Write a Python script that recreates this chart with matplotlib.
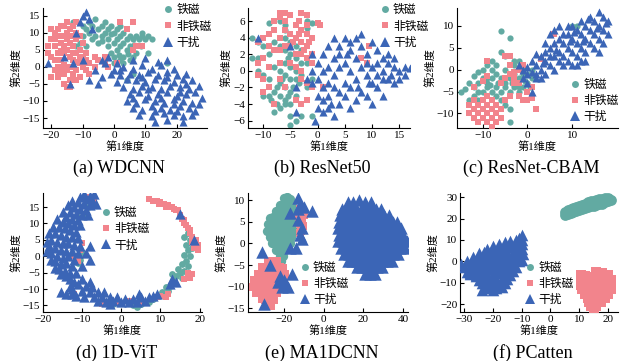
import numpy as np
import matplotlib
matplotlib.use('Agg')
import matplotlib.pyplot as plt
from matplotlib.lines import Line2D

plt.rcParams['font.family'] = ['Liberation Serif', 'Noto Sans CJK SC']
plt.rcParams['axes.unicode_minus'] = True

classes = ['铁磁', '非铁磁', '干扰']
colors = ['#62aaa2', '#f2848c', '#3b65b6']
markers = ['o', 's', '^']
titles = ['(a) WDCNN', '(b) ResNet50', '(c) ResNet-CBAM', '(d) 1D-ViT', '(e) MA1DCNN', '(f) PCatten']
xlabel = '第1维度'
ylabel = '第2维度'

# ---------------- (a) WDCNN ----------------
a_ferro = [(-13,13),(-10,12),(-9,11),(-8,13),(-7,12),(-6,14),(-5,11),(-4,12),(-3,13),(-2,11),(-1,12),(0,10),
           (1,11),(2,9),(3,10),(4,8),(5,9),(6,8),(7,9),(8,8),(9,9),(10,8),(11,9),(12,8),(-8,10),(-6,9),(-4,9),
           (-2,8),(0,7),(1,8),(2,6),(3,7),(4,5),(5,6),(6,3),(3,3),(2,2),(0,3),(-1,4),(-2,6),(1,5),(3,1),(5,2),
           (7,4),(-7,8),(-11,7),(-12,6),(-9,6),(-5,7),(0,1),(4,-4),(6,-2),(17,1),(11,4),(9,10),(-3,10),(-10,9),
           (2,12),(-1,9.5),(1.5,3.5),(4.5,3.8),(-4,7.5),(6.5,6.5),(8.5,6)]
a_nonferro = [(-21,6),(-20,8),(-19,10),(-18,11),(-17,12),(-16,12),(-15,13),(-14,11),(-13,12),(-12,10),(-19,6),
              (-18,4),(-17,7),(-16,9),(-15,8),(-14,7),(-13,6),(-12,8),(-11,5),(-10,3),(-20,3),(-19,2),(-17,2),
              (-16,4),(-15,5),(-14,3),(-13,2),(-12,4),(-11,1),(-9,2),(-18,0),(-17,-1),(-16,-2),(-15,-1),(-14,0),
              (-13,-2),(-12,-1),(-11,-3),(-10,0),(-9,-1),(-20,-3),(-18,-3),(-16,-5),(-15,-6),(-14,-4),(-12,-4),
              (-8,1),(-9,4),(-10,7),(-11,9),(-16,6),(-20,11),(-17,9),(-13,9),(-12,13),(-21,4),(-8,-2),(-6,0),
              (-5,2),(-3,1),(2,13),(6,13),(4,11),(7,6),(6,5),(9,6),(-3,3),(-2,0),(1,1),(-6,3),(-14,-6),(-18,-2),
              (-19,8),(-17,4.5),(-15,10),(-13,4),(-11,3),(-19,-1),(-16,0.5),(-12,1.5)]
a_interf = [(-9,16),(-10,15),(-8,14),(-11,13),(-7,11),(-12,10),(-21,1),(-16,3),(-14,-5),(-8,-4),(-6,-1),(-4,-3),
            (-3,1),(-2,3),(-4,2),(-1,-2),(0,-1),(1,1),(2,-1),(-10,2),(-13,1),(-5,-5),
            (6,2),(10,2.5),(14,1.5),(17,2),(3,0),(6,-0.5),(9,0.5),(12,-0.5),(15,0.5),(19,-0.5),
            (2,-2.5),(5,-2),(8,-2.5),(11,-1.5),(14,-2.5),(17,-1.5),(20,-2.5),(23,-2),
            (1,-4.5),(4,-3.5),(7,-4),(10,-4.5),(13,-3.5),(16,-4),(19,-4.5),(22,-3.5),(25,-4),
            (3,-6),(6,-6.5),(9,-5.5),(12,-6),(15,-6.5),(18,-5.5),(21,-6),(24,-6.5),(27,-5.5),
            (5,-8),(8,-7.5),(11,-8.5),(14,-8),(17,-7.5),(20,-8.5),(23,-8),(26,-7.5),(28,-9),
            (4,-10),(7,-10.5),(10,-9.5),(13,-10),(16,-10.5),(19,-9.5),(22,-10),(25,-10.5),(27,-11),
            (6,-12),(9,-12.5),(12,-11.5),(15,-12),(18,-12.5),(21,-11.5),(24,-12),(26,-13),
            (8,-14),(12,-14.5),(16,-13.5),(19,-14),(22,-14.5),(25,-14),(13,-16),(17,-15.5),(22,-16),
            (11,-6.5),(17,-3),(21,-7.5),(15,-9),(19,-11),(23,-5),(9,-3),(6,-9),(13,-13),(20,-13)]

# ---------------- (b) ResNet50 ----------------
b_ferro = [(-9,5.8),(-7,6),(-6,5.5),(-2,6),(-2,5.2),(-1,5.8),(-11,3.5),(-12,4),(-10,3),(-8,3.5),(-6,4),(-5,3.5),
           (-7,3),(-6,2.5),(-5,2),(-4,1.5),(-6,1),(-5,0.5),(-4,0),(-6,-0.5),(-5,-1),(-7,-1.5),(-4,-1),(-3,-0.5),
           (-2,1),(-3,1),(-11,1.5),(-12,1.5),(-11,0),(-10,-0.5),(-9,-1),(-8,-2.5),(-7,-3),(-6,-3.5),(-9,-3),
           (-10,-3),(-8,-5),(-7,-4.5),(-6,-4),(-5,-4),(-5,-5.5),(-5,-6.5),(-4,-6),(-3,-5.5),(-1,-5.5),(-2,-2),
           (-1,-1),(-4,3),(-3,2.5),(-6,-2),(-5,-2.5),(-4,-3),(-7,0),(-8,0.5),(-6,5),(-9,2),(-5.5,1.5),(-4.5,-2),
           (-6.5,-1),(-3.5,-1.5),(-7.5,-2),(-5.5,-3),(-8.5,-3.5),(-7.5,-4)]
b_nonferro = [(-7,7),(-6,7),(-7,6.5),(-5,6.8),(-3,7),(-2,6.8),(-8,5),(-9,4.5),(-10,4),(-11,3.5),(-9,3),(-8,2.5),
              (-7,4),(-6,5),(-5,4.5),(-4,5.5),(-3,5),(-2,4.5),(-1,4),(-4,4),(-3,3.5),(-2,3),(-5,3),(-6,3),(-7,2.5),
              (-4,2),(-3,2),(-2,1.5),(-1,2),(-5,1),(-4,0.5),(-3,0),(-10,1.5),(-9,0.5),(-10,-1),(-11,-0.5),
              (-10,-2.5),(-9,-2),(-7,-1),(-6,-2),(-8,-4),(-4,-3.5),(-3,-4),(-2,-3.5),(-3,-1),(-2,-1.5),(-1,-2),
              (0,5.8),(0.5,5.5),(1,-2),(8,1.5),(9,1),(9.5,3),(-7,1),(-8,6),(-6,6),(-11,1),(-1,1),(-2,5.5),
              (-3.5,4.5),(-4.5,3.5),(-2.5,2.5),(-1.5,3.5),(-3.5,6)]
b_interf = [(-11,4),(-5,3),(-4,-5),(-4,-2),(-2,-1),(-1,0),(0,1),(1,2),(2,0.5),(3,1.5),(4,3),(5,4),(6,3.5),(7,4),
            (8,3),(9,2),(10,3.5),(11,2.5),(12,1.5),(13,1),(14,0.5),(15,0),(16,0.5),(17,0.3),(3,4),(2,3),(1,0),
            (0,-1),(-1,-1.5),(1,-2),(2,-1.5),(3,-0.5),(4,0.5),(5,1),(6,0),(7,1.5),(8,0.5),(9,-0.5),(10,0.5),
            (11,-0.5),(12,0),(13,-1),(14,-1.5),(15,-1),(16,-0.5),(0,-3),(1,-3.5),(2,-3),(3,-2),(4,-2.5),(5,-3),
            (6,-2),(7,-3.5),(8,-2.5),(9,-3),(10,-1.5),(11,-2),(12,-1),(0,-4.5),(1,-5),(2,-4.5),(4,-4),(6,-4.5),
            (-0.5,-6),(3,-5.5),(5,-1.5),(7,-1),(9,1),(11,1),(13,2),(14,1.5),(10,-4),(12,-3),(6,2.5),(4,2),
            (8,4.5),(-1,2),(5.5,2),(2.5,-4),(7.5,-2),(9.5,-1.5),(13.5,-0.5)]

# ---------------- (c) ResNet-CBAM ----------------
c_ferro = [(-6,8.8),(-4,7.2),(10,10),(11,10),(-2,2),(-6,4),(-5,3),(-8,2),(-9,1),(-11,-0.5),(-12,-1.5),(-13,-3),
           (-14,-4.5),(-15,-5),(-12,-4),(-11,-3),(-10,-2),(-9,-3),(-8,-2),(-7,-1),(-6,-2),(-5,-3),(-4,-2),(-3,-1),
           (-2,-2),(-1,-1),(0,-3),(-1,-4),(-2,-5),(-3,-4),(-4,-5),(-5,-4),(-6,-5),(-7,-4),(-8,-5),(-9,-4),
           (-10,-5),(-11,-5),(-12,-6),(-13,-7),(-7,-6),(-6,-7),(-5,-8),(-4,-9),(-1,0),(0,-1),(1,0),(-3,1),(-5,0),
           (-7,1),(-8,0),(-10,0),(-4,-12),(-3,2),(1,-2),(-2,-4),(-9,-2),(-11,-7),(-6.5,-3),(-3.5,-3),(-8.5,-3.5),
           (-0.5,-2.5),(0.5,-4)]
c_nonferro = [(-5,3),(-4,3),(-9,2),(-3,-0.5),(-2,0),(-1,1),(-4,-1),(-5,-2),(-6,-3),(-3,-3),(-2,-3),(-9,-1.5),
              (-10,-2.5),(-12,-4),(-13,-10),(-12,-9),(-11,-8),(-10,-7),(-9,-6),(-8,-7),(-12,-11),(-11,-10),
              (-10,-11),(-9,-12),(-8,-11),(-7,-10),(-6,-9),(-10,-9),(-9,-8),(-8,-9),(-7,-8),(-11,-12),(-8,-13),
              (-6,-11),(-4,-6),(-2,-6),(-1,-7),(0,-5),(0,-7),(1,-6.5),(1,-4),(6,8),(3,2.5),(2,-9),(-12,-7),
              (-13,-8),(-5,-7),(-9,-10),(-7,-12),(-4,1),(-3,-2)]
c_interf = [(-2,1),(-1,0),(0,-1),(1,2),(1,-5),(2,-2),(2,1),(3,3),(3,0),(4,-1),(4,2),(5,5),(5,1),(6,3),(6,0),
            (7,7),(7,4),(7,2),(8,6),(8,1),(8,3),(9,8),(9,5),(9,2),(10,7),(10,4),(10,10),(11,9),(11,6),(11,3),
            (12,8),(12,5),(12,11),(13,10),(13,7),(13,4),(14,9),(14,6),(14,12),(15,11),(15,8),(15,5),(16,10),
            (16,7),(16,13),(17,12),(17,9),(17,6),(18,11),(18,8),(6,6),(5,3),(4,4),(3,-2),(2,-1),(1,-0.5),
            (0,0.5),(8,8),(9,10),(10,1),(11,1),(12,2),(13,2),(16,4),(6,9),(4,6),(5,8),(7,10),(0,-3),(-1,-2),
            (2,3.5),(3.5,1.5),(6.5,4.5),(9.5,6.5),(12.5,6.5),(15.5,9.5),(17.5,10.5),(10.5,8.5),(13.5,11.5)]

# ---------------- (d) 1D-ViT ----------------
d_ferro = [(17,7),(17.5,5),(16.5,3.5),(17,2),(16,0.5),(17.5,0),(16.5,-1.5),(15.5,-2.5),(17,-3),(16,-4.5),(15,-5),
           (14,-6),(15.5,-6.5),(13.5,-7.5),(12.5,-9),(11.5,-9.5),(12,-10.5),(10.5,-11),(11,-12),(9.5,-12),(8,-13),
           (7,-14),(5,-14.5),(4,-15.5),(3,-15),(-3,-15),(-2,-14.5),(-9,13),(-8.5,15),(-7.5,16),(-11,12),(-10,1),
           (-10.5,-1),(-11,-2),(16,6),(18,2.5),(14.5,-4),(13,-5.5)]
d_nonferro = [(7,17.5),(8,17),(9,17),(10,16.5),(11,16),(12,15.5),(13,15),(14,14),(15,12.5),(16,11),(16.5,9.5),
              (17,8.5),(17.5,7),(18,6),(19,5),(19.5,3.5),(19.5,2),(18.5,2.5),(17,-5),(18,-5.5),(17.5,-6.5),
              (16,-7),(10,-12),(9,-12.5),(11.5,-12.5),(12,-11.5),(2,-13.5),(5,-14),(-1,-14),(-5,-14.5),
              (-12,-11.5),(-10,4),(-10.5,2),(-12,0),(-11,-1.5),(-8,18),(-7,17),(9.5,16),(11.5,15),(13.5,14.5),
              (15.5,11.5),(16,10),(18,4.5),(17.5,8),(14.5,14)]
d_interf = [(-9.5,19),(-8,18.5),(-10.5,18),(-9,17.5),(-7.5,17),(-11,16.5),(-9.5,16),(-8,15.5),(-12,15),(-10.5,14.5),
            (-9,14),(-13,13.5),(-11.5,13),(-10,12.5),(-8.5,12.5),(-14,12),(-12.5,11.5),(-11,11),(-15,10.5),
            (-13.5,10),(-12,9.5),(-10.5,9.5),(-16,9),(-14.5,8.5),(-13,8),(-11.5,7.5),(-17,7),(-15.5,6.5),(-14,6),
            (-12.5,6),(-11,5.5),(-18,5),(-16.5,4.5),(-15,4),(-13.5,4),(-12,3.5),(-10.5,3),(-18.5,3),(-17,2.5),
            (-15.5,2),(-14,1.5),(-12.5,1.5),(-11,1),(-18,1),(-16.5,0),(-15,-0.5),(-13.5,0),(-12,-1),(-17,-1.5),
            (-15.5,-2.5),(-14,-2),(-12.5,-3),(-16,-4),(-14.5,-4.5),(-13,-5),(-14,-6),(-8,3),(-9,1),(-8,-1),
            (-6.5,16),(-7,19),(-12.5,17),(-13.5,15.5),(-15,13.5),(-16.5,11.5),(-17.5,9),(-18.5,7),(-19,4.5),
            (-19,1.5),(-18,-1),(-17,-3.5),(-15.5,-5.5),(-13,-7),(-11.5,-5),(-10,-3),
            (-14,-11.5),(-12.5,-10),(-11,-8.5),(-10,-7),(-11.5,-12),(-10,-10.5),(-9,-9),(-8,-11),(-9.5,-12.5),
            (-7,-12.5),(-6,-11),(-5,-12.5),(-4,-14),(-3,-12.5),(-2,-13.5),(-1,-12.5),(0,-14),(1,-13),(2,-14),
            (3,-13),(4,-14),(5,-12.5),(6,-13.5),(7,-12.5),(8,-12),(9,-11.5),(-6,-13.5),(-8,-8),(-12,-8),
            (-13,-9.5),(-12.5,-11.5),(-3,-14.5),(4.5,-11.5),(-15.5,-11),(-7.5,-9.5),(-4.5,-11),
            (15,13),(18.5,5),(13,-7),(12.5,-8.5),(14,-8)]

# ---------------- (e) MA1DCNN ----------------
e_ferro = [(-20,10.5),(-18.5,10.8),(-17,10.3),(-22,9),(-20.5,9),(-19,9.2),(-17.5,9),(-16,8.8),
           (-24,7.5),(-22.5,7.7),(-21,7.5),(-19.5,7.6),(-18,7.4),(-16.5,7.5),(-15,7.3),
           (-27,6),(-25.5,6.2),(-24,6),(-22.5,6.1),(-21,5.9),(-19.5,6),(-18,6.2),(-16.5,6),(-15,5.8),
           (-28,4.5),(-26.5,4.6),(-25,4.4),(-23.5,4.5),(-22,4.6),(-20.5,4.4),(-19,4.5),(-17.5,4.6),(-16,4.4),(-14.5,4.5),
           (-28.5,3),(-27,3.1),(-25.5,2.9),(-24,3),(-22.5,3.1),(-21,2.9),(-19.5,3),(-18,3.1),(-16.5,2.9),(-15,3),
           (-27,1.5),(-25.5,1.6),(-24,1.4),(-22.5,1.5),(-21,1.6),(-19.5,1.4),(-18,1.5),(-16.5,1.6),
           (-26,0),(-24.5,0.1),(-23,-0.1),(-21.5,0),(-20,0.1),(-18.5,-0.1),(-17,0),
           (-24,-1.5),(-22.5,-1.4),(-21,-1.6),(-19.5,-1.5),(-22,-3),(-20.5,-3),(-21.5,-4)]
e_nonferro = [(-28,-4),(-26.5,-4.2),(-25,-4),(-23.5,-4.1),
              (-31,-5.5),(-29.5,-5.6),(-28,-5.4),(-26.5,-5.5),(-25,-5.6),(-23.5,-5.4),(-22,-5.5),(-20.5,-5.6),
              (-33,-7),(-31.5,-7.1),(-30,-6.9),(-28.5,-7),(-27,-7.1),(-25.5,-6.9),(-24,-7),(-22.5,-7.1),(-21,-6.9),(-19.5,-7),
              (-35,-8.5),(-33.5,-8.6),(-32,-8.4),(-30.5,-8.5),(-29,-8.6),(-27.5,-8.4),(-26,-8.5),(-24.5,-8.6),(-23,-8.4),(-21.5,-8.5),(-20,-8.6),
              (-35.5,-10),(-34,-10.1),(-32.5,-9.9),(-31,-10),(-29.5,-10.1),(-28,-9.9),(-26.5,-10),(-25,-10.1),(-23.5,-9.9),(-22,-10),
              (-34,-11.5),(-32.5,-11.6),(-31,-11.4),(-29.5,-11.5),(-28,-11.6),(-26.5,-11.4),(-25,-11.5),(-23.5,-11.6),
              (-31,-13),(-29.5,-13.1),(-28,-12.9),(-26.5,-13),(-25,-13.1),(-28,-14.5),(-26.5,-14.6),
              (-12,8),(-11,7),(-12.5,6),(-11,5.5),(-12,4.5),(-10.5,4),(-11.5,3),(-10,6.5),(-12,2.5)]
e_interf = [(-13,10.5),(-12,9),(-10,8.5),(-6,7.5),(-17,7),(-13,5.5),(-12,2),(-11,1),(-17,-1),(-31,-2),(-27,-5),
            (-22,-7.5),(-20,-8.5),(-19,-9.5),(-18,-10),(-21,-10),(-30,-14),(-16,-7),(-14,-1),(-23,-9),(-13,8),(-11,3.5),
            (12,9.5),(15,9.5),(18,10),(21,9.5),(24,9.5),
            (9,8),(11.5,8),(14,8),(16.5,8),(19,8),(21.5,8),(24,8),(26.5,8),(29,8),
            (8,6.5),(10.5,6.5),(13,6.5),(15.5,6.5),(18,6.5),(20.5,6.5),(23,6.5),(25.5,6.5),(28,6.5),(30.5,6.5),(33,6.5),
            (7.5,5),(10,5),(12.5,5),(15,5),(17.5,5),(20,5),(22.5,5),(25,5),(27.5,5),(30,5),(32.5,5),(35,5),(37,5),
            (7,3.5),(9.5,3.5),(12,3.5),(14.5,3.5),(17,3.5),(19.5,3.5),(22,3.5),(24.5,3.5),(27,3.5),(29.5,3.5),(32,3.5),(34.5,3.5),(37,3.5),(39,3.5),
            (7.5,2),(10,2),(12.5,2),(15,2),(17.5,2),(20,2),(22.5,2),(25,2),(27.5,2),(30,2),(32.5,2),(35,2),(37.5,2),(40,2),
            (7,0.5),(9.5,0.5),(12,0.5),(14.5,0.5),(17,0.5),(19.5,0.5),(22,0.5),(24.5,0.5),(27,0.5),(29.5,0.5),(32,0.5),(34.5,0.5),(37,0.5),(39.5,0.5),(42,0.5),
            (8.5,-1),(11,-1),(13.5,-1),(16,-1),(18.5,-1),(21,-1),(23.5,-1),(26,-1),(28.5,-1),(31,-1),(33.5,-1),(36,-1),(38.5,-1),(41,-1),
            (10,-2.5),(12.5,-2.5),(15,-2.5),(17.5,-2.5),(20,-2.5),(22.5,-2.5),(25,-2.5),(27.5,-2.5),(30,-2.5),(32.5,-2.5),(35,-2.5),(37.5,-2.5),
            (12,-4),(14.5,-4),(17,-4),(19.5,-4),(22,-4),(24.5,-4),(27,-4),(29.5,-4),(32,-4),(34.5,-4),
            (17,-5.5),(19.5,-5.5),(22,-5.5),(24.5,-5.5),(27,-5.5),(29.5,-5.5),(21,-7),(23.5,-7),(26,-7)]

# ---------------- (f) PCatten ----------------
f_ferro = [(5,21.5),(5,23),(6,22),(6,24),(7,22.5),(7,24.5),(8,23),(8,25),(9,23.5),(9,25.5),(10,24),(10,26),
           (11,24.5),(11,26.5),(12,25),(12,27),(13,25.5),(13,27.5),(14,26),(14,28),(15,26),(15,28),(16,26.5),
           (16,28.5),(17,27),(17,29),(18,27),(18,29),(19,27.5),(19,29.5),(20,28),(20,29.5),(21,28.5),(6.5,23),
           (8.5,24),(10.5,25),(12.5,26),(14.5,27),(16.5,27.5),(18.5,28),(20.5,29),(7.5,23.5),(11.5,25.7),
           (15.5,27.2),(19.5,28.5)]
f_nonferro = [(16,-5),(18,-5.5),(10.5,-6.5),(12,-7),(14,-7.5),(16,-7),(18,-7),(20,-6.5),(11,-9),(13,-9),(15,-9.5),
              (17,-9),(19,-9),(21,-8.5),(10.5,-11),(12.5,-11),(14.5,-11.5),(16.5,-11),(18.5,-11),(20.5,-11),
              (11,-13),(13,-13.5),(15,-13),(17,-13),(19,-13.5),(21,-13),(12,-15),(14,-15),(16,-15.5),(18,-15),
              (20,-15),(13,-17),(15,-17),(17,-17.5),(19,-17),(13.5,-19),(15.5,-19),(17.5,-19),(14,-21),(16,-21),
              (15,-22.5),(11.5,-8),(13.5,-10.5),(17.5,-8),(19.5,-12),(12,-12),(16,-14),(14,-16),(18,-16.5)]
f_interf = [(-10,12.5),(-11,11),(-12,10),(-14,9.5),(-10,10),(-16,9),(-18,8),(-16,7.5),(-14,8),(-12,8),(-10,8),
            (-20,7),(-22,6),(-20,5.5),(-18,6),(-16,6),(-14,6.5),(-12,6),(-10,6),(-25,4),(-23,4.5),(-21,4),
            (-19,3.5),(-17,4),(-15,4),(-13,4.5),(-11,4),(-9.5,3.5),(-27,2),(-25,2.5),(-23,2),(-21,1.5),(-19,2),
            (-17,2.5),(-15,2),(-13,1.5),(-11,2),(-10,0.5),(-31,-1),(-29,0),(-27,0.5),(-25,-0.5),(-23,0),
            (-21,0.5),(-19,-0.5),(-17,0),(-15,0.5),(-13,-0.5),(-11,0),(-30,-2.5),(-28,-2),(-26,-2),(-24,-2.5),
            (-22,-2),(-20,-1.5),(-18,-2),(-16,-2.5),(-14,-2),(-12,-2.5),(-29,-5),(-27,-4),(-25,-4.5),(-23,-4),
            (-21,-3.5),(-19,-4),(-17,-4.5),(-15,-4),(-13,-4.5),(-28,-6),(-26,-7),(-24,-6),(-22,-6.5),(-20,-6),
            (-18,-5.5),(-16,-6),(-14,-6.5),(-25,-8.5),(-23,-8),(-21,-8.5),(-19,-8),(-17,-8.5),(-15,-8),(-24,-10),
            (-22,-10.5),(-20,-10),(-18,-10.5),(-16,-10),(-23,-12.5),(-21,-12),(-19,-12.5),(-17,-12),(-24,-13.5),
            (-20,-13.5),(-26,-6.5),(-28,-5.5)]

panels = [
    dict(data=(a_ferro, a_nonferro, a_interf), xlim=(-22.7, 29.7), ylim=(-17.9, 17.2),
         xt=[-20, -10, 0, 10, 20], yt=[-15, -10, -5, 0, 5, 10, 15], box=(43, 207, 8, 128), leg=(0.72, 1.03)),
    dict(data=(b_ferro, b_nonferro, b_interf), xlim=(-12.8, 17.0), ylim=(-6.9, 7.6),
         xt=[-10, -5, 0, 5, 10, 15], yt=[-6, -4, -2, 0, 2, 4, 6], box=(248, 410, 8, 128), leg=(0.80, 1.03)),
    dict(data=(c_ferro, c_nonferro, c_interf), xlim=(-15.8, 20.3), ylim=(-13.3, 14.0),
         xt=[-10, 0, 10], yt=[-10, -5, 0, 5, 10], box=(457, 618, 8, 128), leg=(0.69, 0.41)),
    dict(data=(d_ferro, d_nonferro, d_interf), xlim=(-20.0, 20.6), ylim=(-17.0, 19.3),
         xt=[-20, -10, 0, 10, 20], yt=[-15, -10, -5, 0, 5, 10, 15], box=(43, 202, 193, 312), leg=(0.35, 0.88)),
    dict(data=(e_ferro, e_nonferro, e_interf), xlim=(-38.2, 42.5), ylim=(-15.9, 11.7),
         xt=[-20, 0, 20, 40], yt=[-15, -10, -5, 0, 5, 10], box=(248, 408, 193, 312), leg=(0.31, 0.42)),
    dict(data=(f_ferro, f_nonferro, f_interf), xlim=(-31.5, 23.5), ylim=(-23.6, 31.9),
         xt=[-30, -20, -10, 0, 10, 20], yt=[-20, -10, 0, 10, 20, 30], box=(460, 618, 193, 312), leg=(0.40, 0.42)),
]

W, H = 626, 361
fig = plt.figure(figsize=(W / 100, H / 100), dpi=100)
sizes = [[20, 20, 34], [20, 20, 34], [20, 20, 34], [24, 24, 55], [45, 40, 80], [60, 60, 70]]
cjk = ['Liberation Serif', 'Noto Sans CJK SC']

for i, p in enumerate(panels):
    l, r, t, b = p['box']
    ax = fig.add_axes([l / W, (H - b) / H, (r - l) / W, (b - t) / H])
    for k in range(3):
        pts = np.array(p['data'][k], dtype=float)
        ax.scatter(pts[:, 0], pts[:, 1], s=sizes[i][k], c=colors[k], marker=markers[k],
                   linewidths=0, zorder=2 + k)
    ax.set_xlim(*p['xlim'])
    ax.set_ylim(*p['ylim'])
    ax.set_xticks(p['xt'])
    ax.set_yticks(p['yt'])
    for s in ['top', 'right']:
        ax.spines[s].set_visible(False)
    for s in ['left', 'bottom']:
        ax.spines[s].set_linewidth(0.8)
    ax.tick_params(direction='in', length=3, width=0.8, labelsize=8, pad=2)
    ax.set_xlabel(xlabel, fontsize=8, family=cjk, labelpad=1)
    ax.set_ylabel(ylabel, fontsize=8, family=cjk, labelpad=1)
    handles = [Line2D([], [], linestyle='none', marker=markers[k], color=colors[k],
                      markersize=5 if k < 2 else 6.5, markeredgewidth=0) for k in range(3)]
    ax.legend(handles, classes, loc='upper left', bbox_to_anchor=p['leg'], frameon=False,
              prop={'family': cjk, 'size': 8.5}, handletextpad=0.1, labelspacing=0.35,
              handlelength=1.2, borderaxespad=0, borderpad=0)
    cx = (l + r) / 2 / W
    ty = 168 if i < 3 else 353
    fig.text(cx - 0.01, (H - ty) / H, titles[i], ha='center', va='center', fontsize=13,
             family='Liberation Serif')

fig.savefig('out.png', dpi=100)
